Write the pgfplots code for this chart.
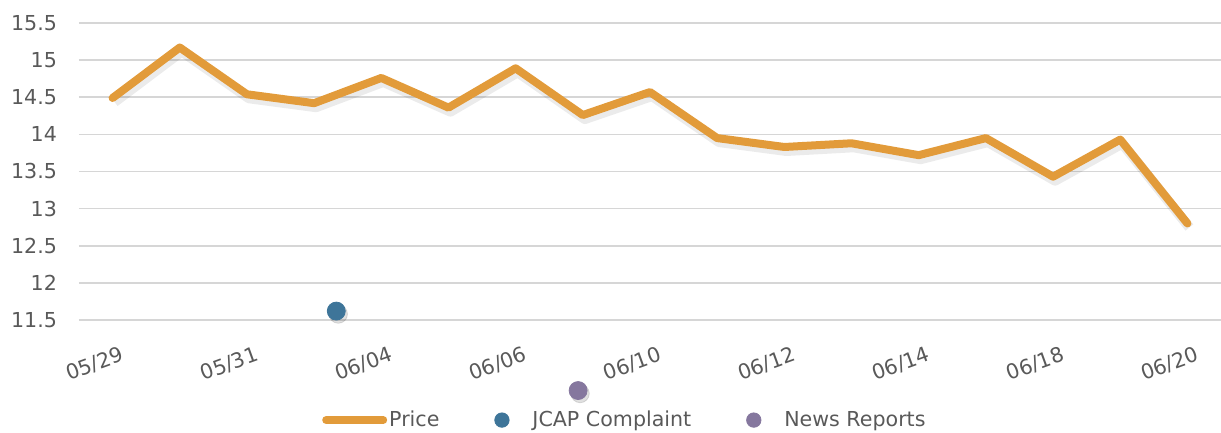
\documentclass[border=0pt]{standalone}
\usepackage{pgfplots}
\pgfplotsset{compat=1.18}
\usepackage{pgfplotstable}
\usepackage{fontspec}
\setmainfont{DejaVu Sans}

\definecolor{priceorange}{RGB}{226,155,58}
\definecolor{jcapblue}{RGB}{62,117,153}
\definecolor{newspurple}{RGB}{133,119,158}
\definecolor{gridgray}{RGB}{214,214,214}
\definecolor{labelgray}{RGB}{89,89,89}

% daily closing price, categories 0..16
\pgfplotstableread{
idx price
0  14.49
1  15.17
2  14.54
3  14.42
4  14.76
5  14.36
6  14.89
7  14.26
8  14.57
9  13.95
10 13.83
11 13.88
12 13.72
13 13.95
14 13.43
15 13.93
16 12.80
}\pricedata

\begin{document}
\begin{tikzpicture}
\begin{axis}[
  name=ax,
  scale only axis,
  width=571pt, height=148.5pt,
  xmin=-0.5, xmax=16.5,
  ymin=11.5, ymax=15.5,
  ytick={11.5,12,12.5,13,13.5,14,14.5,15,15.5},
  xtick={0,2,4,6,8,10,12,14,16},
  xticklabels={05/29,05/31,06/04,06/06,06/10,06/12,06/14,06/18,06/20},
  ymajorgrids,
  grid style={draw=gridgray, line width=0.8pt},
  axis line style={draw=none},
  major tick length=0pt,
  /pgf/number format/assume math mode=true,
  tick label style={font=\fontsize{10.3}{12}\selectfont, text=labelgray},
  xticklabel style={rotate=20, anchor=north east, yshift=-10pt, xshift=2.5pt},
  yticklabel style={xshift=-7.5pt},
  clip=false,
  legend columns=3,
  legend style={at={(0.478,-0.337)}, anchor=center, draw=none, fill=none,
    font=\fontsize{10.3}{12}\selectfont, text=labelgray,
    nodes={inner sep=1pt},
    /tikz/every odd column/.append style={column sep=0pt},
    /tikz/every even column/.append style={column sep=16pt}},
]
% soft shadows
\addplot[forget plot, black, opacity=0.08, line width=5pt, line join=round,
  xshift=1pt, yshift=-2pt] table[x=idx, y=price] {\pricedata};
\addplot[forget plot, only marks, mark=*, mark size=4.6pt, black, opacity=0.12,
  xshift=1pt, yshift=-1.5pt] coordinates {(3.33,11.62) (6.93,10.55)};

\addplot[priceorange, line width=4pt, line join=round, line cap=round,
  legend image code/.code={\draw[priceorange, line width=4pt, line cap=round] (0pt,0pt) -- (28.5pt,0pt);}]
  table[x=idx, y=price] {\pricedata};
\addlegendentry{Price}

\addplot[only marks, mark=*, mark size=4.5pt, color=jcapblue,
  legend image code/.code={\path[draw=none, fill=none] (0pt,0pt) rectangle (28.5pt,0.1pt); \fill[jcapblue] (14.25pt,0pt) circle (3.6pt);}]
  coordinates {(3.33,11.62)};
\addlegendentry{JCAP Complaint}

\addplot[only marks, mark=*, mark size=4.5pt, color=newspurple,
  legend image code/.code={\path[draw=none, fill=none] (0pt,0pt) rectangle (28.5pt,0.1pt); \fill[newspurple] (14.25pt,0pt) circle (3.6pt);}]
  coordinates {(6.93,10.55)};
\addlegendentry{News Reports}
\end{axis}
\pgfresetboundingbox
\path[use as bounding box] ([shift={(-39.5pt,-56.5pt)}]ax.south west) rectangle ([shift={(0pt,11.5pt)}]ax.north east);
\end{tikzpicture}
\end{document}
